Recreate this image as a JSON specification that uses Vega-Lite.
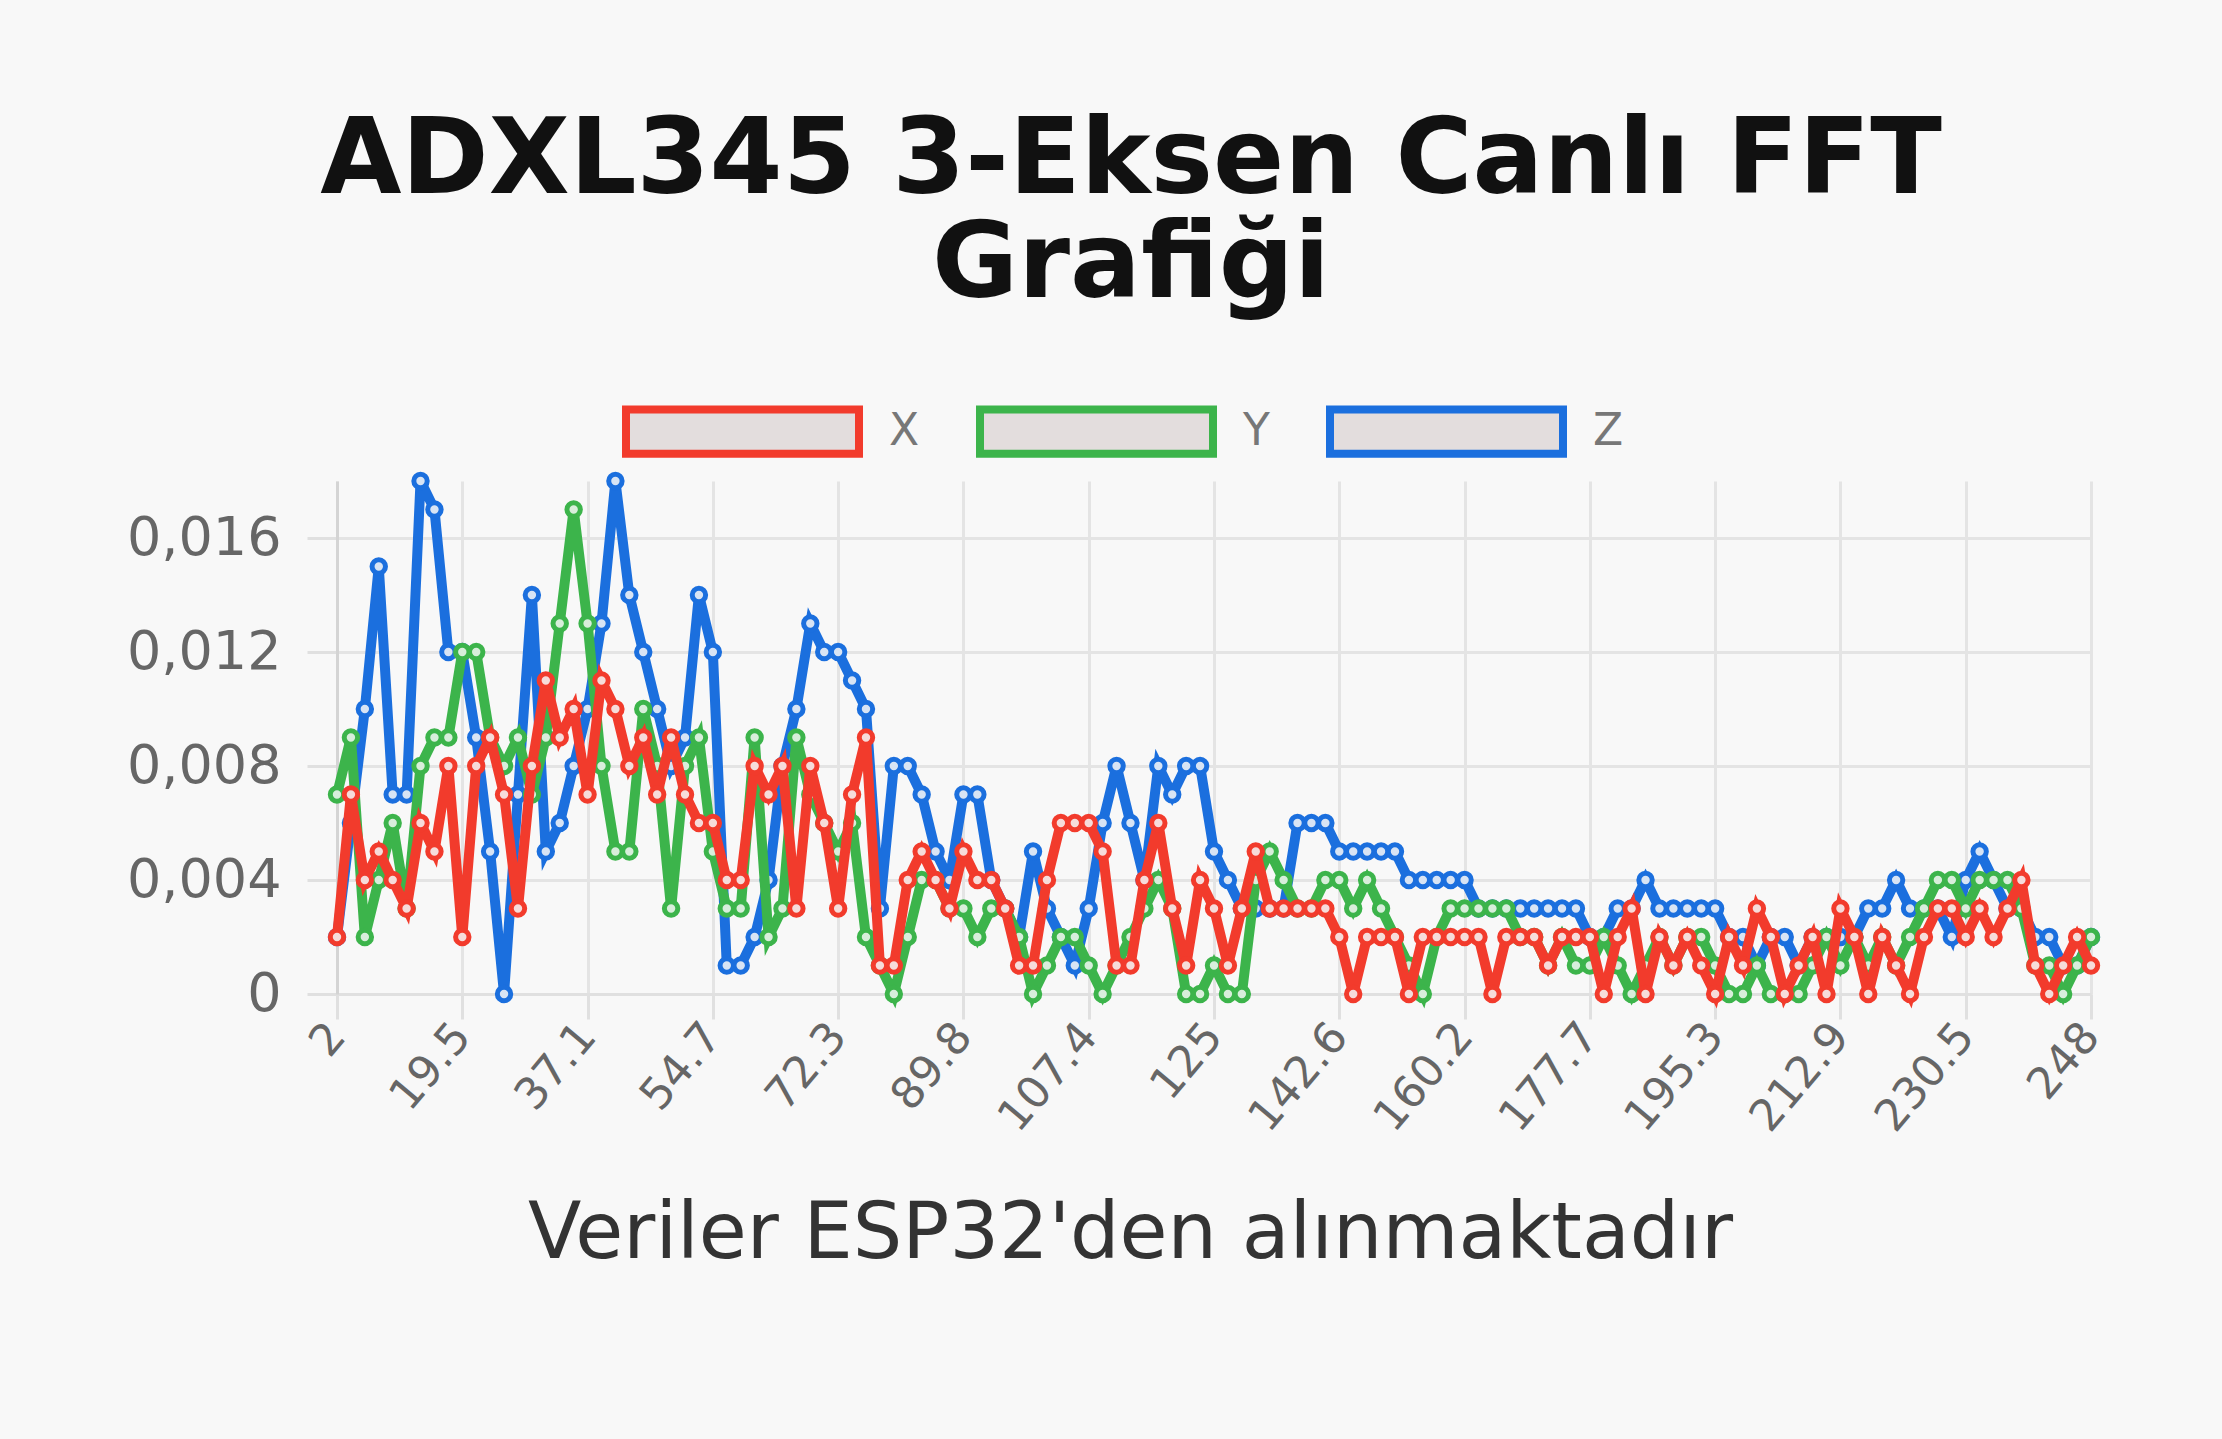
{
"$schema": "https://vega.github.io/schema/vega-lite/v6.json",
"width": 1754,
"height": 513,
"autosize": {"type": "none"},
"padding": {"left": 337, "top": 481, "right": 131, "bottom": 445},
"background": "#f8f8f8",
"title": {"text": ["ADXL345 3-Eksen Canlı FFT", "Grafiği"], "font": "DejaVu Sans", "fontSize": 105, "fontWeight": "bold", "color": "#111111", "lineHeight": 104, "anchor": "middle", "dx": -83, "offset": -8, "frame": "group"},
"data": {"values": [
{"k":1,"s":"Z","v":0.002},{"k":2,"s":"Z","v":0.006},{"k":3,"s":"Z","v":0.010},{"k":4,"s":"Z","v":0.015},{"k":5,"s":"Z","v":0.007},{"k":6,"s":"Z","v":0.007},{"k":7,"s":"Z","v":0.018},{"k":8,"s":"Z","v":0.017},{"k":9,"s":"Z","v":0.012},{"k":10,"s":"Z","v":0.012},
{"k":11,"s":"Z","v":0.009},{"k":12,"s":"Z","v":0.005},{"k":13,"s":"Z","v":0},{"k":14,"s":"Z","v":0.007},{"k":15,"s":"Z","v":0.014},{"k":16,"s":"Z","v":0.005},{"k":17,"s":"Z","v":0.006},{"k":18,"s":"Z","v":0.008},{"k":19,"s":"Z","v":0.010},{"k":20,"s":"Z","v":0.013},
{"k":21,"s":"Z","v":0.018},{"k":22,"s":"Z","v":0.014},{"k":23,"s":"Z","v":0.012},{"k":24,"s":"Z","v":0.010},{"k":25,"s":"Z","v":0.008},{"k":26,"s":"Z","v":0.009},{"k":27,"s":"Z","v":0.014},{"k":28,"s":"Z","v":0.012},{"k":29,"s":"Z","v":0.001},{"k":30,"s":"Z","v":0.001},
{"k":31,"s":"Z","v":0.002},{"k":32,"s":"Z","v":0.004},{"k":33,"s":"Z","v":0.008},{"k":34,"s":"Z","v":0.010},{"k":35,"s":"Z","v":0.013},{"k":36,"s":"Z","v":0.012},{"k":37,"s":"Z","v":0.012},{"k":38,"s":"Z","v":0.011},{"k":39,"s":"Z","v":0.010},{"k":40,"s":"Z","v":0.003},
{"k":41,"s":"Z","v":0.008},{"k":42,"s":"Z","v":0.008},{"k":43,"s":"Z","v":0.007},{"k":44,"s":"Z","v":0.005},{"k":45,"s":"Z","v":0.004},{"k":46,"s":"Z","v":0.007},{"k":47,"s":"Z","v":0.007},{"k":48,"s":"Z","v":0.004},{"k":49,"s":"Z","v":0.003},{"k":50,"s":"Z","v":0.002},
{"k":51,"s":"Z","v":0.005},{"k":52,"s":"Z","v":0.003},{"k":53,"s":"Z","v":0.002},{"k":54,"s":"Z","v":0.001},{"k":55,"s":"Z","v":0.003},{"k":56,"s":"Z","v":0.006},{"k":57,"s":"Z","v":0.008},{"k":58,"s":"Z","v":0.006},{"k":59,"s":"Z","v":0.004},{"k":60,"s":"Z","v":0.008},
{"k":61,"s":"Z","v":0.007},{"k":62,"s":"Z","v":0.008},{"k":63,"s":"Z","v":0.008},{"k":64,"s":"Z","v":0.005},{"k":65,"s":"Z","v":0.004},{"k":66,"s":"Z","v":0.003},{"k":67,"s":"Z","v":0.003},{"k":68,"s":"Z","v":0.003},{"k":69,"s":"Z","v":0.003},{"k":70,"s":"Z","v":0.006},
{"k":71,"s":"Z","v":0.006},{"k":72,"s":"Z","v":0.006},{"k":73,"s":"Z","v":0.005},{"k":74,"s":"Z","v":0.005},{"k":75,"s":"Z","v":0.005},{"k":76,"s":"Z","v":0.005},{"k":77,"s":"Z","v":0.005},{"k":78,"s":"Z","v":0.004},{"k":79,"s":"Z","v":0.004},{"k":80,"s":"Z","v":0.004},
{"k":81,"s":"Z","v":0.004},{"k":82,"s":"Z","v":0.004},{"k":83,"s":"Z","v":0.003},{"k":84,"s":"Z","v":0.003},{"k":85,"s":"Z","v":0.003},{"k":86,"s":"Z","v":0.003},{"k":87,"s":"Z","v":0.003},{"k":88,"s":"Z","v":0.003},{"k":89,"s":"Z","v":0.003},{"k":90,"s":"Z","v":0.003},
{"k":91,"s":"Z","v":0.002},{"k":92,"s":"Z","v":0.002},{"k":93,"s":"Z","v":0.003},{"k":94,"s":"Z","v":0.003},{"k":95,"s":"Z","v":0.004},{"k":96,"s":"Z","v":0.003},{"k":97,"s":"Z","v":0.003},{"k":98,"s":"Z","v":0.003},{"k":99,"s":"Z","v":0.003},{"k":100,"s":"Z","v":0.003},
{"k":101,"s":"Z","v":0.002},{"k":102,"s":"Z","v":0.002},{"k":103,"s":"Z","v":0.001},{"k":104,"s":"Z","v":0.002},{"k":105,"s":"Z","v":0.002},{"k":106,"s":"Z","v":0.001},{"k":107,"s":"Z","v":0.002},{"k":108,"s":"Z","v":0.002},{"k":109,"s":"Z","v":0.002},{"k":110,"s":"Z","v":0.002},
{"k":111,"s":"Z","v":0.003},{"k":112,"s":"Z","v":0.003},{"k":113,"s":"Z","v":0.004},{"k":114,"s":"Z","v":0.003},{"k":115,"s":"Z","v":0.003},{"k":116,"s":"Z","v":0.003},{"k":117,"s":"Z","v":0.002},{"k":118,"s":"Z","v":0.004},{"k":119,"s":"Z","v":0.005},{"k":120,"s":"Z","v":0.004},
{"k":121,"s":"Z","v":0.003},{"k":122,"s":"Z","v":0.003},{"k":123,"s":"Z","v":0.002},{"k":124,"s":"Z","v":0.002},{"k":125,"s":"Z","v":0.001},{"k":126,"s":"Z","v":0.001},{"k":127,"s":"Z","v":0.002},
{"k":1,"s":"Y","v":0.007},{"k":2,"s":"Y","v":0.009},{"k":3,"s":"Y","v":0.002},{"k":4,"s":"Y","v":0.004},{"k":5,"s":"Y","v":0.006},{"k":6,"s":"Y","v":0.003},{"k":7,"s":"Y","v":0.008},{"k":8,"s":"Y","v":0.009},{"k":9,"s":"Y","v":0.009},{"k":10,"s":"Y","v":0.012},
{"k":11,"s":"Y","v":0.012},{"k":12,"s":"Y","v":0.009},{"k":13,"s":"Y","v":0.008},{"k":14,"s":"Y","v":0.009},{"k":15,"s":"Y","v":0.007},{"k":16,"s":"Y","v":0.009},{"k":17,"s":"Y","v":0.013},{"k":18,"s":"Y","v":0.017},{"k":19,"s":"Y","v":0.013},{"k":20,"s":"Y","v":0.008},
{"k":21,"s":"Y","v":0.005},{"k":22,"s":"Y","v":0.005},{"k":23,"s":"Y","v":0.010},{"k":24,"s":"Y","v":0.008},{"k":25,"s":"Y","v":0.003},{"k":26,"s":"Y","v":0.008},{"k":27,"s":"Y","v":0.009},{"k":28,"s":"Y","v":0.005},{"k":29,"s":"Y","v":0.003},{"k":30,"s":"Y","v":0.003},
{"k":31,"s":"Y","v":0.009},{"k":32,"s":"Y","v":0.002},{"k":33,"s":"Y","v":0.003},{"k":34,"s":"Y","v":0.009},{"k":35,"s":"Y","v":0.007},{"k":36,"s":"Y","v":0.006},{"k":37,"s":"Y","v":0.005},{"k":38,"s":"Y","v":0.006},{"k":39,"s":"Y","v":0.002},{"k":40,"s":"Y","v":0.001},
{"k":41,"s":"Y","v":0},{"k":42,"s":"Y","v":0.002},{"k":43,"s":"Y","v":0.004},{"k":44,"s":"Y","v":0.004},{"k":45,"s":"Y","v":0.003},{"k":46,"s":"Y","v":0.003},{"k":47,"s":"Y","v":0.002},{"k":48,"s":"Y","v":0.003},{"k":49,"s":"Y","v":0.003},{"k":50,"s":"Y","v":0.002},
{"k":51,"s":"Y","v":0},{"k":52,"s":"Y","v":0.001},{"k":53,"s":"Y","v":0.002},{"k":54,"s":"Y","v":0.002},{"k":55,"s":"Y","v":0.001},{"k":56,"s":"Y","v":0},{"k":57,"s":"Y","v":0.001},{"k":58,"s":"Y","v":0.002},{"k":59,"s":"Y","v":0.003},{"k":60,"s":"Y","v":0.004},
{"k":61,"s":"Y","v":0.003},{"k":62,"s":"Y","v":0},{"k":63,"s":"Y","v":0},{"k":64,"s":"Y","v":0.001},{"k":65,"s":"Y","v":0},{"k":66,"s":"Y","v":0},{"k":67,"s":"Y","v":0.004},{"k":68,"s":"Y","v":0.005},{"k":69,"s":"Y","v":0.004},{"k":70,"s":"Y","v":0.003},
{"k":71,"s":"Y","v":0.003},{"k":72,"s":"Y","v":0.004},{"k":73,"s":"Y","v":0.004},{"k":74,"s":"Y","v":0.003},{"k":75,"s":"Y","v":0.004},{"k":76,"s":"Y","v":0.003},{"k":77,"s":"Y","v":0.002},{"k":78,"s":"Y","v":0.001},{"k":79,"s":"Y","v":0},{"k":80,"s":"Y","v":0.002},
{"k":81,"s":"Y","v":0.003},{"k":82,"s":"Y","v":0.003},{"k":83,"s":"Y","v":0.003},{"k":84,"s":"Y","v":0.003},{"k":85,"s":"Y","v":0.003},{"k":86,"s":"Y","v":0.002},{"k":87,"s":"Y","v":0.002},{"k":88,"s":"Y","v":0.001},{"k":89,"s":"Y","v":0.002},{"k":90,"s":"Y","v":0.001},
{"k":91,"s":"Y","v":0.001},{"k":92,"s":"Y","v":0.002},{"k":93,"s":"Y","v":0.001},{"k":94,"s":"Y","v":0},{"k":95,"s":"Y","v":0.001},{"k":96,"s":"Y","v":0.002},{"k":97,"s":"Y","v":0.001},{"k":98,"s":"Y","v":0.002},{"k":99,"s":"Y","v":0.002},{"k":100,"s":"Y","v":0.001},
{"k":101,"s":"Y","v":0},{"k":102,"s":"Y","v":0},{"k":103,"s":"Y","v":0.001},{"k":104,"s":"Y","v":0},{"k":105,"s":"Y","v":0},{"k":106,"s":"Y","v":0},{"k":107,"s":"Y","v":0.001},{"k":108,"s":"Y","v":0.002},{"k":109,"s":"Y","v":0.001},{"k":110,"s":"Y","v":0.002},
{"k":111,"s":"Y","v":0.001},{"k":112,"s":"Y","v":0.002},{"k":113,"s":"Y","v":0.001},{"k":114,"s":"Y","v":0.002},{"k":115,"s":"Y","v":0.003},{"k":116,"s":"Y","v":0.004},{"k":117,"s":"Y","v":0.004},{"k":118,"s":"Y","v":0.003},{"k":119,"s":"Y","v":0.004},{"k":120,"s":"Y","v":0.004},
{"k":121,"s":"Y","v":0.004},{"k":122,"s":"Y","v":0.003},{"k":123,"s":"Y","v":0.001},{"k":124,"s":"Y","v":0.001},{"k":125,"s":"Y","v":0},{"k":126,"s":"Y","v":0.001},{"k":127,"s":"Y","v":0.002},
{"k":1,"s":"X","v":0.002},{"k":2,"s":"X","v":0.007},{"k":3,"s":"X","v":0.004},{"k":4,"s":"X","v":0.005},{"k":5,"s":"X","v":0.004},{"k":6,"s":"X","v":0.003},{"k":7,"s":"X","v":0.006},{"k":8,"s":"X","v":0.005},{"k":9,"s":"X","v":0.008},{"k":10,"s":"X","v":0.002},
{"k":11,"s":"X","v":0.008},{"k":12,"s":"X","v":0.009},{"k":13,"s":"X","v":0.007},{"k":14,"s":"X","v":0.003},{"k":15,"s":"X","v":0.008},{"k":16,"s":"X","v":0.011},{"k":17,"s":"X","v":0.009},{"k":18,"s":"X","v":0.010},{"k":19,"s":"X","v":0.007},{"k":20,"s":"X","v":0.011},
{"k":21,"s":"X","v":0.010},{"k":22,"s":"X","v":0.008},{"k":23,"s":"X","v":0.009},{"k":24,"s":"X","v":0.007},{"k":25,"s":"X","v":0.009},{"k":26,"s":"X","v":0.007},{"k":27,"s":"X","v":0.006},{"k":28,"s":"X","v":0.006},{"k":29,"s":"X","v":0.004},{"k":30,"s":"X","v":0.004},
{"k":31,"s":"X","v":0.008},{"k":32,"s":"X","v":0.007},{"k":33,"s":"X","v":0.008},{"k":34,"s":"X","v":0.003},{"k":35,"s":"X","v":0.008},{"k":36,"s":"X","v":0.006},{"k":37,"s":"X","v":0.003},{"k":38,"s":"X","v":0.007},{"k":39,"s":"X","v":0.009},{"k":40,"s":"X","v":0.001},
{"k":41,"s":"X","v":0.001},{"k":42,"s":"X","v":0.004},{"k":43,"s":"X","v":0.005},{"k":44,"s":"X","v":0.004},{"k":45,"s":"X","v":0.003},{"k":46,"s":"X","v":0.005},{"k":47,"s":"X","v":0.004},{"k":48,"s":"X","v":0.004},{"k":49,"s":"X","v":0.003},{"k":50,"s":"X","v":0.001},
{"k":51,"s":"X","v":0.001},{"k":52,"s":"X","v":0.004},{"k":53,"s":"X","v":0.006},{"k":54,"s":"X","v":0.006},{"k":55,"s":"X","v":0.006},{"k":56,"s":"X","v":0.005},{"k":57,"s":"X","v":0.001},{"k":58,"s":"X","v":0.001},{"k":59,"s":"X","v":0.004},{"k":60,"s":"X","v":0.006},
{"k":61,"s":"X","v":0.003},{"k":62,"s":"X","v":0.001},{"k":63,"s":"X","v":0.004},{"k":64,"s":"X","v":0.003},{"k":65,"s":"X","v":0.001},{"k":66,"s":"X","v":0.003},{"k":67,"s":"X","v":0.005},{"k":68,"s":"X","v":0.003},{"k":69,"s":"X","v":0.003},{"k":70,"s":"X","v":0.003},
{"k":71,"s":"X","v":0.003},{"k":72,"s":"X","v":0.003},{"k":73,"s":"X","v":0.002},{"k":74,"s":"X","v":0},{"k":75,"s":"X","v":0.002},{"k":76,"s":"X","v":0.002},{"k":77,"s":"X","v":0.002},{"k":78,"s":"X","v":0},{"k":79,"s":"X","v":0.002},{"k":80,"s":"X","v":0.002},
{"k":81,"s":"X","v":0.002},{"k":82,"s":"X","v":0.002},{"k":83,"s":"X","v":0.002},{"k":84,"s":"X","v":0},{"k":85,"s":"X","v":0.002},{"k":86,"s":"X","v":0.002},{"k":87,"s":"X","v":0.002},{"k":88,"s":"X","v":0.001},{"k":89,"s":"X","v":0.002},{"k":90,"s":"X","v":0.002},
{"k":91,"s":"X","v":0.002},{"k":92,"s":"X","v":0},{"k":93,"s":"X","v":0.002},{"k":94,"s":"X","v":0.003},{"k":95,"s":"X","v":0},{"k":96,"s":"X","v":0.002},{"k":97,"s":"X","v":0.001},{"k":98,"s":"X","v":0.002},{"k":99,"s":"X","v":0.001},{"k":100,"s":"X","v":0},
{"k":101,"s":"X","v":0.002},{"k":102,"s":"X","v":0.001},{"k":103,"s":"X","v":0.003},{"k":104,"s":"X","v":0.002},{"k":105,"s":"X","v":0},{"k":106,"s":"X","v":0.001},{"k":107,"s":"X","v":0.002},{"k":108,"s":"X","v":0},{"k":109,"s":"X","v":0.003},{"k":110,"s":"X","v":0.002},
{"k":111,"s":"X","v":0},{"k":112,"s":"X","v":0.002},{"k":113,"s":"X","v":0.001},{"k":114,"s":"X","v":0},{"k":115,"s":"X","v":0.002},{"k":116,"s":"X","v":0.003},{"k":117,"s":"X","v":0.003},{"k":118,"s":"X","v":0.002},{"k":119,"s":"X","v":0.003},{"k":120,"s":"X","v":0.002},
{"k":121,"s":"X","v":0.003},{"k":122,"s":"X","v":0.004},{"k":123,"s":"X","v":0.001},{"k":124,"s":"X","v":0},{"k":125,"s":"X","v":0.001},{"k":126,"s":"X","v":0.002},{"k":127,"s":"X","v":0.001}
]},
"encoding": {
  "x": {"field": "k", "type": "quantitative", "scale": {"domain": [1, 127], "nice": false, "zero": false},
    "axis": {"values": [1, 10, 19, 28, 37, 46, 55, 64, 73, 82, 91, 100, 109, 118, 127],
      "labelExpr": "format(datum.value * 1.953125, '.1~f')",
      "labelAngle": -50, "labelAlign": "right", "labelBaseline": "middle", "labelOverlap": false, "labelFlush": false, "labelBound": false,
      "labelFont": "DejaVu Sans", "labelFontSize": 44, "labelColor": "#666666", "labelPadding": 10,
      "ticks": true, "tickSize": 25, "tickColor": "#e0e0e0", "tickWidth": 3,
      "grid": true, "gridColor": "#e4e4e4", "gridWidth": 3,
      "domain": true, "domainColor": "#e0e0e0", "domainWidth": 3,
      "title": "Veriler ESP32'den alınmaktadır", "titleFont": "DejaVu Sans", "titleFontSize": 78, "titleFontWeight": "normal", "titleColor": "#333333", "titlePadding": 56, "titleX": 793, "titleAlign": "center"}},
  "y": {"field": "v", "type": "quantitative", "scale": {"domain": [0, 0.018], "nice": false},
    "axis": {"values": [0, 0.004, 0.008, 0.012, 0.016],
      "labelExpr": "datum.value == 0 ? '0' : replace(format(datum.value, '.3f'), '.', ',')",
      "labelFont": "DejaVu Sans", "labelFontSize": 54, "labelColor": "#666666", "labelPadding": 26,
      "ticks": true, "tickSize": 30, "tickColor": "#e0e0e0", "tickWidth": 3,
      "grid": true, "gridColor": "#e4e4e4", "gridWidth": 3,
      "domain": true, "domainColor": "#d4d4d4", "domainWidth": 3, "title": null}},
  "color": {"field": "s", "type": "nominal",
    "scale": {"domain": ["X", "Y", "Z"], "range": ["#f23b2c", "#3cb44b", "#1b6fde"]},
    "legend": {"orient": "none", "legendX": 285, "legendY": -170, "direction": "horizontal", "title": null,
      "symbolType": "M-1,-0.19H1V0.19H-1Z", "symbolSize": 54289, "symbolStrokeWidth": 8,
      "labelFont": "DejaVu Sans", "labelFontSize": 44, "labelColor": "#777777", "labelOffset": 26, "columnPadding": 44,
      "encode": {"symbols": {"update": {"fill": {"value": "#e3dddd"}, "fillOpacity": {"value": 1}, "opacity": {"value": 1}}}}}}
},
"layer": [
  {"transform": [{"filter": "datum.s === 'Z'"}], "mark": {"type": "line", "strokeWidth": 10, "clip": false}},
  {"transform": [{"filter": "datum.s === 'Z'"}], "mark": {"type": "point", "filled": false, "fill": "#d8e4f4", "size": 180, "strokeWidth": 5, "opacity": 1, "clip": false}},
  {"transform": [{"filter": "datum.s === 'Y'"}], "mark": {"type": "line", "strokeWidth": 10, "clip": false}},
  {"transform": [{"filter": "datum.s === 'Y'"}], "mark": {"type": "point", "filled": false, "fill": "#d8eedb", "size": 180, "strokeWidth": 5, "opacity": 1, "clip": false}},
  {"transform": [{"filter": "datum.s === 'X'"}], "mark": {"type": "line", "strokeWidth": 10, "clip": false}},
  {"transform": [{"filter": "datum.s === 'X'"}], "mark": {"type": "point", "filled": false, "fill": "#f6dcda", "size": 180, "strokeWidth": 5, "opacity": 1, "clip": false}}
],
"config": {"view": {"stroke": null}}
}
